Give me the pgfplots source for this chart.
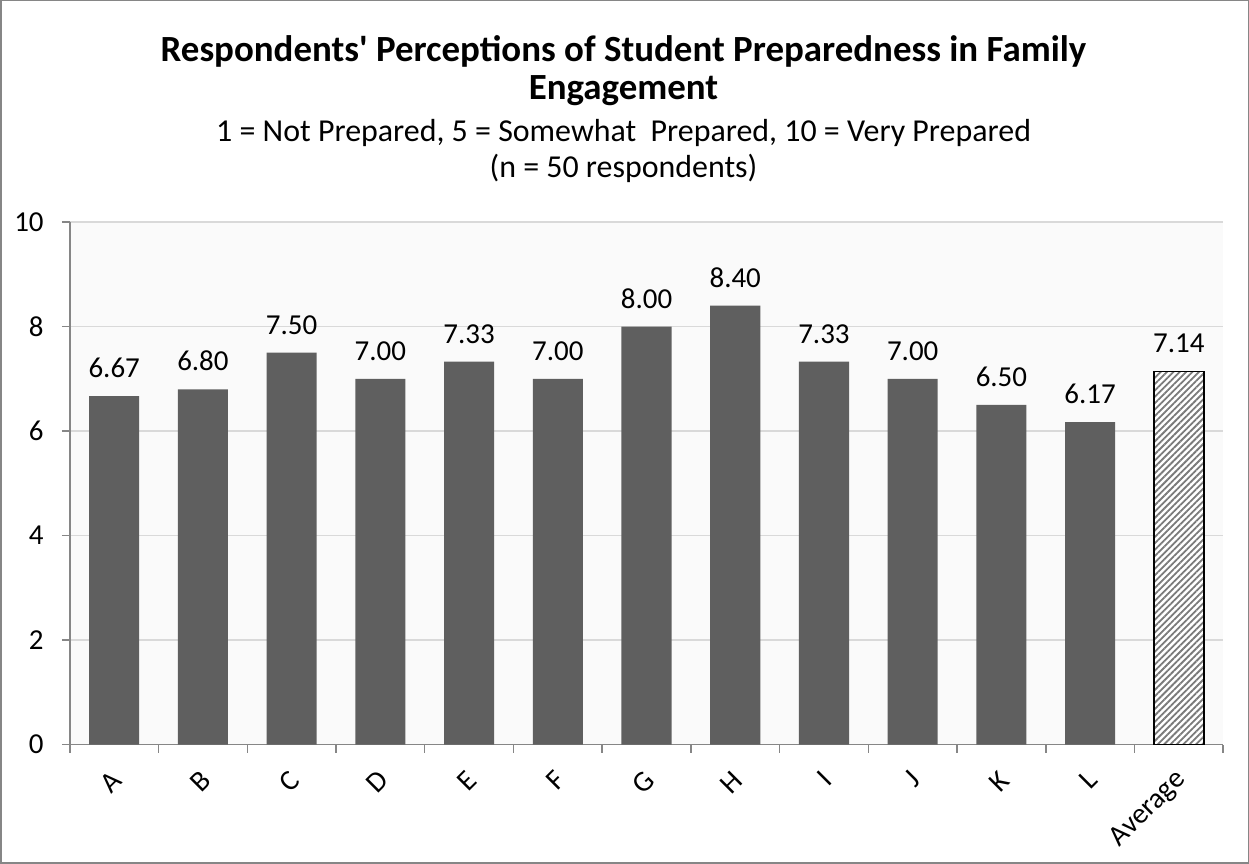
\documentclass[border=0pt]{standalone}
\usepackage{fontspec}
\setmainfont{Carlito}
\usepackage{pgfplots}
\pgfplotsset{compat=1.18}
\usetikzlibrary{patterns.meta}
\definecolor{barc}{HTML}{5F5F5F}
\definecolor{axc}{HTML}{868686}
\definecolor{gridc}{HTML}{D9D9D9}
\definecolor{hatchc}{HTML}{7A7A7A}
\definecolor{bgc}{HTML}{FAFAFA}
\begin{document}
\begin{tikzpicture}
\begin{axis}[
  at={(0,0)}, anchor=south west,
  width=1152bp, height=522bp, scale only axis,
  ymin=0, ymax=10, xmin=-0.5, xmax=12.5,
  ytick={0,2,...,10},
  xtick={0,...,12},
  xticklabels={A,B,C,D,E,F,G,H,I,J,K,L,Average},
  minor xtick={-0.5,0.5,...,12.5},
  axis x line*=bottom, axis y line*=left,
  axis line style={axc, line width=1.5bp},
  axis background/.style={fill=bgc},
  ymajorgrids, grid style={gridc, line width=1.5bp},
  tick align=outside,
  major tick length=8bp, minor tick length=8bp,
  major x tick style={draw=none},
  minor x tick style={axc, line width=1.5bp},
  major y tick style={axc, line width=1.5bp},
  /pgf/number format/assume math mode=true,
  yticklabel style={font=\fontsize{29}{35}\selectfont, inner sep=0pt, xshift=-18bp},
  xticklabel style={font=\fontsize{29}{35}\selectfont, inner sep=0pt, xshift=3bp, yshift=-23bp, rotate=45, anchor=east},
  clip=false,
]
\addplot[ybar, bar shift=0pt, bar width=50bp, fill=barc, draw=none,
  nodes near coords,
  nodes near coords style={font=\fontsize{29}{35}\selectfont, anchor=south, inner sep=0pt, yshift=18bp,
    /pgf/number format/fixed, /pgf/number format/precision=2, /pgf/number format/fixed zerofill, /pgf/number format/assume math mode=true}]
  table {
x y
0 6.67
1 6.80
2 7.50
3 7.00
4 7.33
5 7.00
6 8.00
7 8.40
8 7.33
9 7.00
10 6.50
11 6.17
};
\addplot[ybar, bar shift=0pt, bar width=50bp, fill=white, draw=black, line width=1.5bp,
  postaction={pattern={Lines[angle=45, distance=4.5bp, line width=1.8bp]}, pattern color=hatchc},
  nodes near coords,
  nodes near coords style={font=\fontsize{29}{35}\selectfont, anchor=south, inner sep=0pt, yshift=18bp,
    /pgf/number format/fixed, /pgf/number format/precision=2, /pgf/number format/fixed zerofill, /pgf/number format/assume math mode=true}]
  table {
x y
12 7.14
};
\end{axis}
\draw[axc, line width=1.5bp] (-69bp,-118bp) rectangle (1177bp,743bp);
\node[anchor=base, inner sep=0pt, font=\fontsize{37}{44}\selectfont\bfseries] at (553bp,682bp) {Respondents\textquotesingle\ Perceptions of Student Preparedness in Family};
\node[anchor=base, inner sep=0pt, font=\fontsize{37}{44}\selectfont\bfseries] at (553bp,644bp) {Engagement};
\node[anchor=base, inner sep=0pt, font=\fontsize{32}{38}\selectfont] at (553bp,602bp) {1 = Not Prepared, 5 = Somewhat\ \ Prepared, 10 = Very Prepared};
\node[anchor=base, inner sep=0pt, font=\fontsize{32}{38}\selectfont] at (553bp,566bp) {(n = 50 respondents)};
\end{tikzpicture}
\end{document}
